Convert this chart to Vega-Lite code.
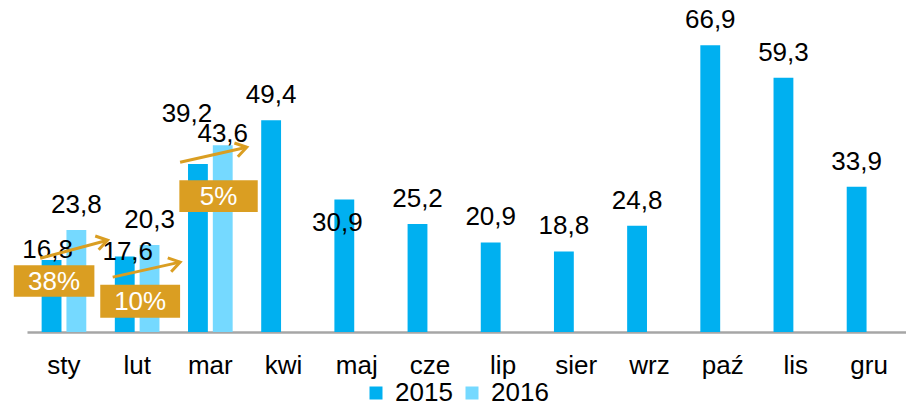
{
  "$schema": "https://vega.github.io/schema/vega-lite/v6.json",
  "width": 879,
  "height": 300,
  "autosize": {"type": "none"},
  "padding": {"left": 27, "top": 32, "right": 0, "bottom": 76},
  "background": "white",
  "config": {
    "font": "Liberation Sans",
    "view": {"stroke": null},
    "locale": {"number": {"decimal": ",", "thousands": " ", "grouping": [3], "currency": ["", " zł"]}}
  },
  "datasets": {
    "sales": [
      {"month": "sty", "year": "2015", "value": 16.8},
      {"month": "sty", "year": "2016", "value": 23.8},
      {"month": "lut", "year": "2015", "value": 17.6},
      {"month": "lut", "year": "2016", "value": 20.3},
      {"month": "mar", "year": "2015", "value": 39.2},
      {"month": "mar", "year": "2016", "value": 43.6},
      {"month": "kwi", "year": "2015", "value": 49.4},
      {"month": "maj", "year": "2015", "value": 30.9},
      {"month": "cze", "year": "2015", "value": 25.2},
      {"month": "lip", "year": "2015", "value": 20.9},
      {"month": "sier", "year": "2015", "value": 18.8},
      {"month": "wrz", "year": "2015", "value": 24.8},
      {"month": "paź", "year": "2015", "value": 66.9},
      {"month": "lis", "year": "2015", "value": 59.3},
      {"month": "gru", "year": "2015", "value": 33.9}
    ],
    "boxes": [
      {"label": "38%", "x1": -0.18, "x2": 0.92, "y1": 8.2, "y2": 15.6},
      {"label": "10%", "x1": 1.0, "x2": 2.09, "y1": 3.3, "y2": 11.0},
      {"label": "5%", "x1": 2.08, "x2": 3.15, "y1": 28.0, "y2": 35.4}
    ],
    "arrows": [
      {"x1": 0.18, "x2": 1.1, "y1": 17.2, "y2": 21.4},
      {"x1": 1.17, "x2": 2.09, "y1": 12.8, "y2": 16.3},
      {"x1": 2.09, "x2": 3.0, "y1": 39.6, "y2": 43.1}
    ]
  },
  "resolve": {"scale": {"x": "independent"}},
  "layer": [
    {
      "data": {"name": "sales"},
      "encoding": {
        "x": {
          "field": "month", "type": "nominal", "sort": null,
          "scale": {"domain": ["sty", "lut", "mar", "kwi", "maj", "cze", "lip", "sier", "wrz", "paź", "lis", "gru"], "paddingInner": 0.39, "paddingOuter": 0.2},
          "axis": {"title": null, "ticks": false, "labelAngle": 0, "labelFontSize": 26, "labelColor": "#000000", "labelPadding": 20, "domainColor": "#A6A6A6", "domainWidth": 2.5}
        },
        "xOffset": {"field": "year", "type": "nominal", "scale": {"domain": ["2015", "2016"], "paddingInner": 0.2}},
        "y": {"field": "value", "type": "quantitative", "scale": {"domain": [0, 70], "nice": false}, "axis": null}
      },
      "layer": [
        {
          "mark": {"type": "bar"},
          "encoding": {
            "color": {
              "field": "year", "type": "nominal",
              "scale": {"domain": ["2015", "2016"], "range": ["#00B0F0", "#75D9FF"]},
              "legend": {"title": null, "orient": "none", "legendX": 336, "legendY": 348, "padding": 0, "direction": "horizontal", "symbolType": "square", "symbolSize": 169, "symbolStrokeWidth": 0, "labelFontSize": 26, "labelColor": "#000000", "columnPadding": 6, "labelOffset": 6}
            }
          }
        },
        {
          "transform": [{"filter": "!((datum.month == 'sty' && datum.year == '2015') || (datum.month == 'lut' && datum.year == '2015') || datum.month == 'mar' || datum.month == 'maj')"}],
          "mark": {"type": "text", "fontSize": 26, "color": "#000000", "baseline": "alphabetic", "dy": -17},
          "encoding": {"text": {"field": "value", "type": "quantitative", "format": ".1f"}}
        },
        {
          "transform": [{"filter": "datum.month == 'sty' && datum.year == '2015'"}],
          "mark": {"type": "text", "fontSize": 26, "color": "#000000", "baseline": "alphabetic", "dx": -4, "dy": -2},
          "encoding": {"text": {"field": "value", "type": "quantitative", "format": ".1f"}}
        },
        {
          "transform": [{"filter": "datum.month == 'lut' && datum.year == '2015'"}],
          "mark": {"type": "text", "fontSize": 26, "color": "#000000", "baseline": "alphabetic", "dx": 3, "dy": 3},
          "encoding": {"text": {"field": "value", "type": "quantitative", "format": ".1f"}}
        },
        {
          "transform": [{"filter": "datum.month == 'mar' && datum.year == '2015'"}],
          "mark": {"type": "text", "fontSize": 26, "color": "#000000", "baseline": "alphabetic", "dx": -11, "dy": -42},
          "encoding": {"text": {"field": "value", "type": "quantitative", "format": ".1f"}}
        },
        {
          "transform": [{"filter": "datum.month == 'mar' && datum.year == '2016'"}],
          "mark": {"type": "text", "fontSize": 26, "color": "#000000", "baseline": "alphabetic", "dy": -3},
          "encoding": {"text": {"field": "value", "type": "quantitative", "format": ".1f"}}
        },
        {
          "transform": [{"filter": "datum.month == 'maj'"}],
          "mark": {"type": "text", "fontSize": 26, "color": "#000000", "baseline": "alphabetic", "dx": -7, "dy": 31},
          "encoding": {"text": {"field": "value", "type": "quantitative", "format": ".1f"}}
        }
      ]
    },
    {
      "layer": [
        {
          "data": {"name": "boxes"},
          "mark": {"type": "rect", "color": "#DA9E22"},
          "encoding": {
            "x": {"field": "x1", "type": "quantitative", "scale": {"domain": [0, 12], "nice": false, "zero": false}, "axis": null},
            "x2": {"field": "x2"},
            "y": {"field": "y1", "type": "quantitative", "scale": {"domain": [0, 70], "nice": false}, "axis": null},
            "y2": {"field": "y2"}
          }
        },
        {
          "data": {"name": "boxes"},
          "transform": [{"calculate": "(datum.x1 + datum.x2) / 2", "as": "xc"}, {"calculate": "(datum.y1 + datum.y2) / 2", "as": "yc"}],
          "mark": {"type": "text", "color": "white", "fontSize": 26, "baseline": "middle", "align": "center", "dy": 1},
          "encoding": {
            "x": {"field": "xc", "type": "quantitative", "scale": {"domain": [0, 12], "nice": false, "zero": false}, "axis": null},
            "y": {"field": "yc", "type": "quantitative", "scale": {"domain": [0, 70], "nice": false}, "axis": null},
            "text": {"field": "label"}
          }
        },
        {
          "data": {"name": "arrows"},
          "mark": {"type": "rule", "color": "#DA9E22", "strokeWidth": 3},
          "encoding": {
            "x": {"field": "x1", "type": "quantitative", "scale": {"domain": [0, 12], "nice": false, "zero": false}, "axis": null},
            "x2": {"field": "x2"},
            "y": {"field": "y1", "type": "quantitative", "scale": {"domain": [0, 70], "nice": false}, "axis": null},
            "y2": {"field": "y2"}
          }
        },
        {
          "data": {"name": "arrows"},
          "mark": {"type": "point", "shape": "M-1,-0.65L0,0L-1,0.65", "filled": false, "stroke": "#DA9E22", "strokeWidth": 3, "size": 480, "angle": -14, "opacity": 1},
          "encoding": {
            "x": {"field": "x2", "type": "quantitative", "scale": {"domain": [0, 12], "nice": false, "zero": false}, "axis": null},
            "y": {"field": "y2", "type": "quantitative", "scale": {"domain": [0, 70], "nice": false}, "axis": null}
          }
        }
      ]
    }
  ]
}
